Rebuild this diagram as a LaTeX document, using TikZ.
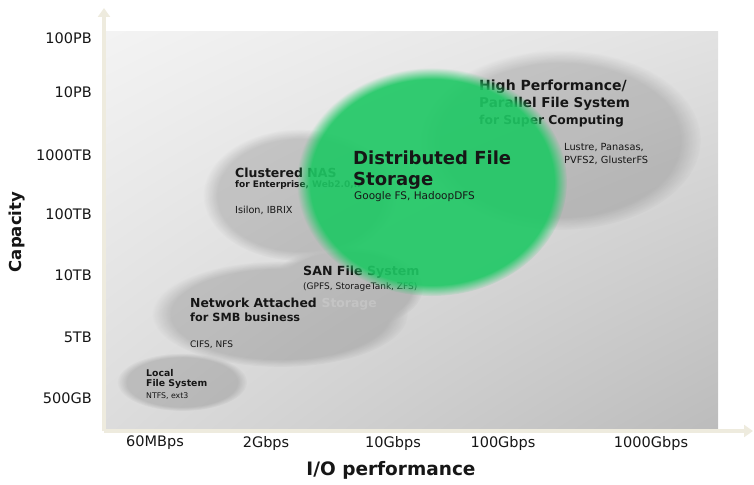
\documentclass[tikz,border=0pt]{standalone}
\usepackage{fontspec}
\setmainfont{DejaVu Sans}
\usetikzlibrary{fadings,shadings,arrows.meta}
\definecolor{axiscream}{RGB}{238,235,222}
\definecolor{dfsgreen}{RGB}{30,200,100}
\definecolor{txt}{RGB}{22,22,22}
\definecolor{panelA}{RGB}{243,243,243}
\definecolor{panelB}{RGB}{226,226,226}
\definecolor{panelC}{RGB}{220,220,220}
\definecolor{panelD}{RGB}{188,188,188}
\tikzset{
  axisline/.style={line width=4.5pt, axiscream, -{Triangle[width=12pt,length=9pt]}},
  blob/.style={fill=black, path fading=circle with fuzzy edge 15 percent},
  ytick/.style={font=\fontsize{14.5}{14.5}\selectfont, text=txt, anchor=east, inner sep=0pt},
  xtick/.style={font=\fontsize{14.5}{14.5}\selectfont, text=txt, anchor=center, inner sep=0pt},
  axtitle/.style={font=\bfseries\fontsize{#1}{#1}\selectfont, text=txt, inner sep=0pt},
  head/.style={font=\bfseries\fontsize{#1}{#1}\selectfont, text=txt, anchor=west, inner sep=0pt},
  head/.default=13,
  small/.style={font=\fontsize{#1}{#1}\selectfont, text=txt, anchor=west, inner sep=0pt},
  small/.default=9.5,
}
\begin{document}
\begin{tikzpicture}[x=1pt,y=-1pt]
\useasboundingbox (0,0) rectangle (754,484);

% axes
\coordinate (origin) at (104,431);
\coordinate (ytop) at (104,8);
\coordinate (xend) at (753,431);
\draw[axisline] (origin) -- (ytop);
\draw[axisline] (origin) -- (xend);

% shaded plotting panel
\shade[upper left=panelA, upper right=panelB, lower left=panelC, lower right=panelD]
  (106,32) rectangle (718,428);

% soft grey regions of the storage classes, merged into one layer
\begin{scope}[transparency group, opacity=0.15]
  \fill[blob] (560,140) ellipse (141 and 90);
  \fill[blob] (300,195) ellipse (97 and 66);
  \fill[blob] (345,288) ellipse (78 and 42);
  \fill[blob] (280,314) ellipse (128 and 53);
  \fill[blob] (182,382) ellipse (65 and 29);
\end{scope}

% class labels lying under the green area
\node[head=14] (hp1) at (479,87) {High Performance/};
\node[head=13.5] (hp2) at (479,104) {Parallel File System};
\node[head=12.3] (hp3) at (479,121) {for Super Computing};
\node[small=9.8] (hp4) at (564,147) {Lustre, Panasas,};
\node[small=9.8] (hp5) at (564,160) {PVFS2, GlusterFS};

\node[head=12.5] (cn1) at (235,173) {Clustered NAS};
\node[head=9] (cn2) at (235,185) {for Enterprise, Web2.0,..};
\node[small=9.7] (cn3) at (235,210) {Isilon, IBRIX};

\node[head=12.6] (san1) at (303,272) {SAN File System};
\node[small=9] (san2) at (303,287) {(GPFS, StorageTank, ZFS)};

\node[head=12.4] (na1) at (190,303) {Network Attached};
\node[head=12.4, text=white, text opacity=0.18, anchor=base west] (na1b) at (na1.base east) {\ Storage};
\node[head=11.3] (na2) at (190,317) {for SMB business};
\node[small=9] (na3) at (190,345) {CIFS, NFS};

\node[head=9.3] (lf1) at (146,373) {Local};
\node[head=9.3] (lf2) at (146,384) {File System};
\node[small=7.8] (lf3) at (146,396) {NTFS, ext3};

% distributed file storage
\fill[dfsgreen, fill opacity=0.9, path fading=circle with fuzzy edge 10 percent]
  (432,182) ellipse (135 and 114);
\node[head=18] (dfs1) at (353,158) {Distributed File};
\node[head=18] (dfs2) at (353,181) {Storage};
\node[small=10.5] (dfs3) at (354,197) {Google FS, HadoopDFS};

% capacity scale
\node[ytick] (c1) at (92,38) {100PB};
\node[ytick] (c2) at (92,92) {10PB};
\node[ytick] (c3) at (92,155) {1000TB};
\node[ytick] (c4) at (92,214) {100TB};
\node[ytick] (c5) at (92,275) {10TB};
\node[ytick] (c6) at (92,337) {5TB};
\node[ytick] (c7) at (92,398) {500GB};

% performance scale
\node[xtick] (p1) at (155,443) {60MBps};
\node[xtick] (p2) at (266,443) {2Gbps};
\node[xtick] (p3) at (393,443) {10Gbps};
\node[xtick] (p4) at (503,443) {100Gbps};
\node[xtick] (p5) at (651,443) {1000Gbps};

\node[axtitle=16.5, rotate=90] (ylab) at (17,232) {Capacity};
\node[axtitle=18.5] (xlab) at (391,470) {I/O performance};
\end{tikzpicture}
\end{document}
